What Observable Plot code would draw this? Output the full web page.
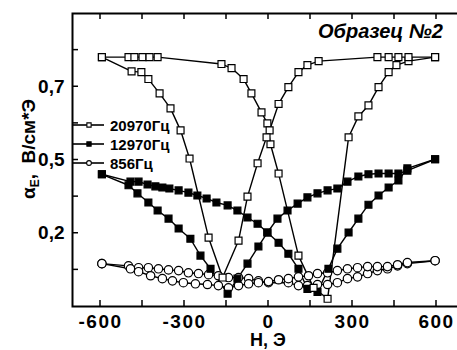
<!DOCTYPE html>
<html><head><meta charset="utf-8">
<script src="https://cdn.jsdelivr.net/npm/d3@7"></script>
<script src="https://cdn.jsdelivr.net/npm/@observablehq/plot@0.6"></script>
<style>
html,body{margin:0;padding:0;background:#fff;overflow:hidden;width:457px;height:350px}
#chart{position:relative;width:457px;height:350px;overflow:hidden}
#chart svg{display:block;max-width:none !important;width:480px;height:350px}
</style></head><body><div id="chart"></div>
<script>
// Series names (legend)
const seriesNames = ["20970Гц", "12970Гц", "856Гц"];
const chartTitle = "Образец №2";
const xLabel = "Н, Э";

// Tick values / labels
const xTickLabelValues = [-600, -300, 0, 300, 600];
const xTickMarkValues = [-600, -450, -300, -150, 0, 150, 300, 450, 600];
const yTickLabelValues = [0.7, 0.5, 0.3];
const yTickLabels = ["0,7", "0,5", "0,2"];
const yTickMarkValues = [0.2, 0.3, 0.4, 0.5, 0.6, 0.7, 0.8];

// 20970 Hz, sweep from -600 to +600
const h20970up = [-595, -500, -479, -450, -425, -396, -168, -132, -89, -61, -25, -4, 7, 36, 107, 161, 211, 286, 321, 357, 393, 429, 457, 500, 595];
const a20970up = [0.781, 0.781, 0.781, 0.781, 0.781, 0.781, 0.762, 0.751, 0.721, 0.682, 0.630, 0.600, 0.543, 0.463, 0.239, 0.151, 0.121, 0.562, 0.619, 0.649, 0.699, 0.740, 0.759, 0.770, 0.781];
// 20970 Hz, sweep from +600 to -600
const h20970down = [595, 500, 464, 429, 389, 179, 139, 107, 71, 36, 4, -7, -39, -75, -107, -164, -214, -282, -314, -350, -389, -429, -454, -489, -595];
const a20970down = [0.781, 0.781, 0.781, 0.781, 0.781, 0.770, 0.759, 0.740, 0.699, 0.653, 0.581, 0.562, 0.491, 0.400, 0.280, 0.179, 0.288, 0.504, 0.581, 0.641, 0.682, 0.721, 0.740, 0.742, 0.781];

// 12970 Hz, sweep from -600 to +600
const h12970up = [-595, -493, -464, -432, -404, -379, -354, -321, -286, -254, -221, -186, -146, -111, -75, -39, -4, 36, 71, 107, 139, 175, 214, 246, 286, 321, 357, 393, 429, 464, 496, 595];
const a12970up = [0.461, 0.441, 0.441, 0.433, 0.428, 0.425, 0.422, 0.417, 0.411, 0.403, 0.395, 0.384, 0.376, 0.362, 0.343, 0.326, 0.302, 0.274, 0.244, 0.203, 0.148, 0.140, 0.203, 0.258, 0.302, 0.340, 0.378, 0.403, 0.425, 0.444, 0.477, 0.502];
// 12970 Hz, sweep from +600 to -600
const h12970down = [595, 496, 464, 429, 393, 357, 321, 282, 246, 211, 175, 139, 104, 68, 32, -4, -36, -75, -111, -146, -207, -243, -279, -321, -357, -396, -429, -468, -500, -595];
const a12970down = [0.502, 0.471, 0.463, 0.463, 0.463, 0.461, 0.455, 0.441, 0.422, 0.417, 0.409, 0.398, 0.381, 0.362, 0.340, 0.302, 0.264, 0.217, 0.176, 0.135, 0.203, 0.239, 0.285, 0.313, 0.340, 0.362, 0.384, 0.409, 0.431, 0.461];

// 856 Hz, sweep from -600 to +600
const h856up = [-595, -500, -464, -429, -393, -357, -321, -286, -250, -214, -179, -143, -107, -71, -36, 0, 71, 107, 139, 175, 211, 246, 282, 318, 354, 389, 425, 461, 496, 595];
const a856up = [0.217, 0.211, 0.206, 0.206, 0.203, 0.200, 0.198, 0.192, 0.190, 0.187, 0.184, 0.179, 0.179, 0.176, 0.170, 0.165, 0.165, 0.157, 0.157, 0.160, 0.160, 0.165, 0.176, 0.181, 0.190, 0.198, 0.203, 0.211, 0.217, 0.225];
// 856 Hz, sweep from +600 to -600
const h856down = [595, 496, 461, 425, 389, 354, 318, 282, 246, 211, 175, 143, 107, 71, 36, 0, -36, -71, -107, -143, -179, -218, -261, -304, -343, -379, -421, -464, -493, -595];
const a856down = [0.225, 0.220, 0.214, 0.209, 0.209, 0.209, 0.206, 0.203, 0.198, 0.192, 0.190, 0.184, 0.181, 0.176, 0.173, 0.168, 0.165, 0.162, 0.157, 0.151, 0.157, 0.160, 0.162, 0.165, 0.170, 0.176, 0.184, 0.195, 0.203, 0.217];

(function () {
const branches = [
  {series: seriesNames[0], branch: "20970-up", h: h20970up, a: a20970up},
  {series: seriesNames[0], branch: "20970-down", h: h20970down, a: a20970down},
  {series: seriesNames[1], branch: "12970-up", h: h12970up, a: a12970up},
  {series: seriesNames[1], branch: "12970-down", h: h12970down, a: a12970down},
  {series: seriesNames[2], branch: "856-up", h: h856up, a: a856up},
  {series: seriesNames[2], branch: "856-down", h: h856down, a: a856down}
];
const rows = branches.flatMap(b => b.h.map((h, i) => ({series: b.series, branch: b.branch, h, a: b.a[i]})));

const markerStyle = {
  [seriesNames[0]]: {symbol: "square", fill: "white"},
  [seriesNames[1]]: {symbol: "square", fill: "black"},
  [seriesNames[2]]: {symbol: "circle", fill: "white"}
};

const sansBold = {fontFamily: "Liberation Sans, Arial, sans-serif", fontWeight: "bold"};

const plot = Plot.plot({
  width: 480,
  height: 350,
  marginLeft: 72,
  marginRight: 16,
  marginTop: 13,
  marginBottom: 44,
  style: {background: "white", color: "black", maxWidth: "none"},
  x: {domain: [-700, 700]},
  y: {domain: [0.1, 0.9]},
  marks: [
    Plot.line(rows, {x: "h", y: "a", z: "branch", stroke: "black", strokeWidth: 1.4}),
    ...seriesNames.slice().reverse().map(s => Plot.dot(rows.filter(d => d.series === s), {
      x: "h", y: "a", symbol: markerStyle[s].symbol, r: s === seriesNames[2] ? 4.2 : 3.9,
      fill: markerStyle[s].fill, stroke: "black", strokeWidth: 1.2
    })),
    Plot.frame({stroke: "black", strokeWidth: 2}),
    Plot.axisX({ticks: xTickLabelValues, tickSize: 0, tickPadding: 8, tickFormat: d => String(d),
      fontSize: 19, ...sansBold, label: null}),
    Plot.axisY({ticks: yTickLabelValues, tickSize: 0, tickPadding: 8,
      tickFormat: d => yTickLabels[yTickLabelValues.indexOf(d)], fontSize: 19, ...sansBold, label: null})
  ]
});

document.getElementById("chart").appendChild(plot);

const xs = plot.scale("x"), ys = plot.scale("y");
const svg = d3.select(plot);
svg.selectAll('[aria-label="x-axis tick label"] text').style("letter-spacing", "1.5px");
const X = v => xs.apply(v), Y = v => ys.apply(v);
const pLeft = X(-700), pRight = X(700), pTop = Y(0.9), pBottom = Y(0.1);
const tk = 6;
const g = svg.append("g").attr("stroke", "black").attr("stroke-width", 1.5);
xTickMarkValues.forEach(v => {
  g.append("line").attr("x1", X(v)).attr("x2", X(v)).attr("y1", pBottom).attr("y2", pBottom - tk);
  g.append("line").attr("x1", X(v)).attr("x2", X(v)).attr("y1", pTop).attr("y2", pTop + tk);
});
yTickMarkValues.forEach(v => {
  g.append("line").attr("y1", Y(v)).attr("y2", Y(v)).attr("x1", pLeft).attr("x2", pLeft + tk);
  g.append("line").attr("y1", Y(v)).attr("y2", Y(v)).attr("x1", pRight).attr("x2", pRight - tk);
});

// Title (inside plot, top right)
svg.append("text").attr("x", pLeft + 246).attr("y", pTop + 25).attr("text-anchor", "start")
  .attr("font-family", "Liberation Sans, Arial, sans-serif").attr("font-weight", "bold")
  .attr("font-style", "italic").attr("font-size", 20).text(chartTitle);

// X label
svg.append("text").attr("x", X(0)).attr("y", 346).attr("text-anchor", "middle")
  .attr("font-family", "Liberation Sans, Arial, sans-serif").attr("font-weight", "bold")
  .attr("font-size", 18).text(xLabel);

// Y label (rotated)
const yl = svg.append("text").attr("transform", `translate(35,149) rotate(-90)`).attr("text-anchor", "middle")
  .attr("font-family", "Liberation Sans, Arial, sans-serif").attr("font-weight", "bold")
  .attr("font-size", 19).style("white-space", "pre");
yl.append("tspan").text("α");
yl.append("tspan").attr("font-size", 12).attr("dy", 4).text("E");
yl.append("tspan").attr("dy", -4).text(",  В/см*Э");

// Legend (inside plot, left)
const legend = svg.append("g");
seriesNames.forEach((s, i) => {
  const ly = pTop + 112 + i * 19;
  const lg = legend.append("g").attr("transform", `translate(${pLeft + 1},${ly})`);
  lg.append("line").attr("x1", 0).attr("x2", 31).attr("y1", 0).attr("y2", 0).attr("stroke", "black").attr("stroke-width", 1.6);
  const sym = d3.symbol(markerStyle[s].symbol === "square" ? d3.symbolSquare : d3.symbolCircle, 18);
  lg.append("path").attr("d", sym()).attr("transform", "translate(16,0)")
    .attr("fill", markerStyle[s].fill).attr("stroke", "black").attr("stroke-width", 1.1);
  lg.append("text").attr("x", 37).attr("y", 5.5).attr("text-anchor", "start")
    .attr("font-family", "Liberation Sans, Arial, sans-serif").attr("font-weight", "bold")
    .attr("font-size", 15).text(s);
});
})();
</script></body></html>
